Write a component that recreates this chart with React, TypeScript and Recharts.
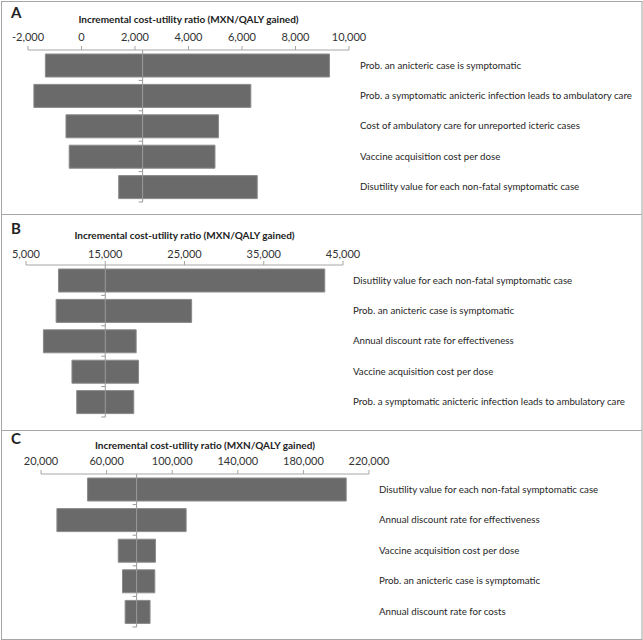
import { Bar, BarChart, ReferenceLine, XAxis, YAxis } from "recharts";

const namesA = [
    "Prob. an anicteric case is symptomatic",
    "Prob. a symptomatic anicteric infection leads to ambulatory care",
    "Cost of ambulatory care for unreported icteric cases",
    "Vaccine acquisition cost per dose",
    "Disutility value for each non-fatal symptomatic case",
];
const lowA = [-1350, -1780, -580, -460, 1390];
const highA = [9270, 6330, 5120, 4990, 6570];
const baseA = 2285;
const ticksA = [-2000, 0, 2000, 4000, 6000, 8000, 10000];

const namesB = [
    "Disutility value for each non-fatal symptomatic case",
    "Prob. an anicteric case is symptomatic",
    "Annual discount rate for effectiveness",
    "Vaccine acquisition cost per dose",
    "Prob. a symptomatic anicteric infection leads to ambulatory care",
];
const lowB = [9100, 8800, 7200, 10800, 11400];
const highB = [42700, 25900, 18900, 19200, 18600];
const baseB = 15000;
const ticksB = [5000, 15000, 25000, 35000, 45000];

const namesC = [
    "Disutility value for each non-fatal symptomatic case",
    "Annual discount rate for effectiveness",
    "Vaccine acquisition cost per dose",
    "Prob. an anicteric case is symptomatic",
    "Annual discount rate for costs",
];
const lowC = [48400, 29700, 67100, 69700, 71300];
const highC = [206100, 108500, 89800, 89400, 86500];
const baseC = 78300;
const ticksC = [20000, 60000, 100000, 140000, 180000, 220000];

const TITLE = "Incremental cost-utility ratio (MXN/QALY gained)";
const FONT = "Lato, 'Open Sans', sans-serif";
const AXIS_H = 40;

type PanelProps = {
    letter: string;
    names: string[];
    low: number[];
    high: number[];
    base: number;
    ticks: number[];
    top: number;
    height: number;
    left: number;
    right: number;
    axisY: number;
    plotBottom: number;
    titleY: number;
    tickY: number;
    labelX: number;
};

// vertical base line with the little category ticks on its left
const BaseLine = (props: any) => {
    const { x1, y1, y2 } = props;
    const step = (y2 - y1) / 5;
    const marks = [1, 2, 3, 4, 5].map((i) => (
        <line
            key={i}
            x1={x1 - 4}
            x2={x1}
            y1={y1 + i * step}
            y2={y1 + i * step}
            stroke="#9a9a9a"
        />
    ));
    return (
        <g>
            <line x1={x1} x2={x1} y1={y1} y2={y2} stroke="#9a9a9a" />
            {marks}
        </g>
    );
};

// single-line category label
const NameTick = (props: any) => {
    const { x, y, payload } = props;
    return (
        <text
            x={x}
            y={y}
            dy="0.35em"
            textAnchor="start"
            fill="#262626"
            fontSize={9.7}
            fontFamily={FONT}
        >
            {payload.value}
        </text>
    );
};

const Panel = (p: PanelProps) => {
    const data = p.names.map((name, i) => ({
        name,
        range: [p.low[i], p.high[i]],
    }));
    const axisTop = p.axisY - AXIS_H;

    return (
        <div
            style={{
                position: "absolute",
                left: 0,
                top: p.top,
                width: 643,
                height: p.height,
            }}
        >
            <div
                style={{
                    position: "absolute",
                    left: 11,
                    top: p.titleY - 19,
                    fontFamily: FONT,
                    fontWeight: 700,
                    fontSize: 15,
                    color: "#222",
                }}
            >
                {p.letter}
            </div>
            <BarChart
                width={643}
                height={p.height}
                layout="vertical"
                data={data}
                margin={{
                    top: axisTop,
                    bottom: p.height - p.plotBottom,
                    left: p.left,
                    right: 0,
                }}
            >
                <XAxis
                    type="number"
                    orientation="top"
                    height={AXIS_H}
                    domain={[p.ticks[0], p.ticks[p.ticks.length - 1]]}
                    ticks={p.ticks}
                    interval={0}
                    allowDataOverflow
                    stroke="#a6a6a6"
                    tickSize={4}
                    tickMargin={p.axisY - p.tickY - 9}
                    tick={{ fill: "#333", fontSize: 11, fontFamily: FONT }}
                    tickFormatter={(v: number) => v.toLocaleString("en-US")}
                    label={{
                        value: TITLE,
                        position: "insideTop",
                        offset: p.titleY - 6 - axisTop,
                        fill: "#222",
                        fontSize: 10,
                        fontWeight: 700,
                        fontFamily: FONT,
                    }}
                />
                <YAxis
                    type="category"
                    dataKey="name"
                    orientation="right"
                    width={643 - p.right}
                    axisLine={false}
                    tickLine={false}
                    tickSize={0}
                    tickMargin={p.labelX - p.right}
                    tick={<NameTick />}
                />
                <Bar
                    dataKey="range"
                    fill="#6a6a6a"
                    stroke="#8a8a8a"
                    barSize={23}
                    isAnimationActive={false}
                />
                <ReferenceLine x={p.base} shape={BaseLine} />
            </BarChart>
        </div>
    );
};

export default function App() {
    return (
        <div
            style={{
                position: "absolute",
                left: 0,
                top: 0,
                width: 643,
                height: 640,
                background: "#fff",
            }}
        >
            <Panel
                letter="A"
                names={namesA}
                low={lowA}
                high={highA}
                base={baseA}
                ticks={ticksA}
                top={0}
                height={214}
                left={28}
                right={349}
                axisY={50}
                plotBottom={202}
                titleY={22}
                tickY={36}
                labelX={360}
            />
            <Panel
                letter="B"
                names={namesB}
                low={lowB}
                high={highB}
                base={baseB}
                ticks={ticksB}
                top={214}
                height={216}
                left={26}
                right={343}
                axisY={51}
                plotBottom={203}
                titleY={24}
                tickY={39}
                labelX={353}
            />
            <Panel
                letter="C"
                names={namesC}
                low={lowC}
                high={highC}
                base={baseC}
                ticks={ticksC}
                top={430}
                height={210}
                left={41}
                right={369}
                axisY={44}
                plotBottom={197}
                titleY={18}
                tickY={30}
                labelX={379}
            />
            <div
                style={{
                    position: "absolute",
                    left: 1,
                    top: 1,
                    width: 639,
                    height: 637,
                    border: "1px solid #a6a6a6",
                    borderRight: "2px solid #d0d0d0",
                    pointerEvents: "none",
                }}
            />
            <div style={{ position: "absolute", left: 1, top: 214, width: 641, height: 1, background: "#a6a6a6" }} />
            <div style={{ position: "absolute", left: 1, top: 430, width: 641, height: 1, background: "#a6a6a6" }} />
        </div>
    );
}
